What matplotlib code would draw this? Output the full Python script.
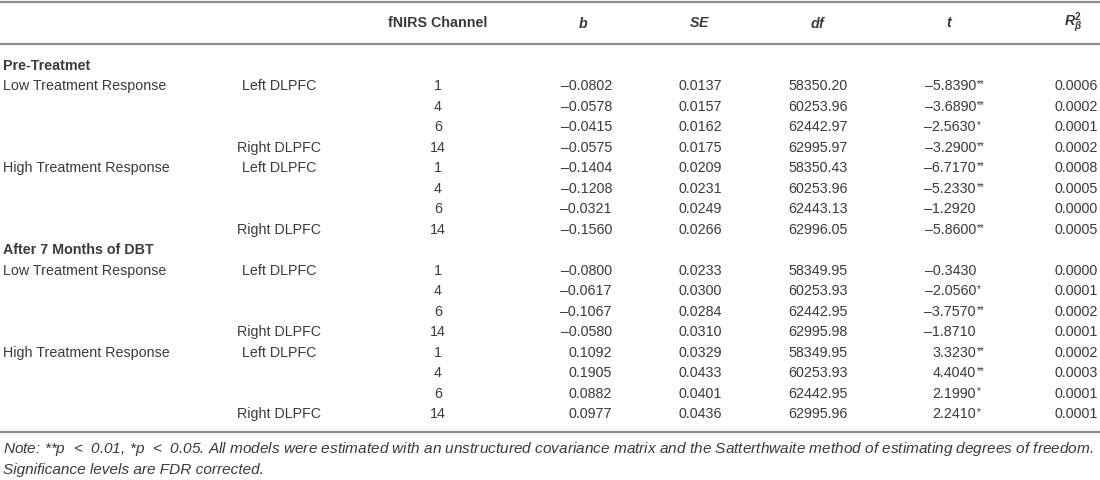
import matplotlib
matplotlib.use("Agg")
import matplotlib.pyplot as plt

plt.rcParams['font.family'] = ['Liberation Sans', 'DejaVu Sans']
plt.rcParams['mathtext.fontset'] = 'custom'
plt.rcParams['mathtext.rm'] = 'Liberation Sans'
plt.rcParams['mathtext.it'] = 'Liberation Sans:italic'
plt.rcParams['mathtext.bf'] = 'Liberation Sans:bold'
plt.rcParams['mathtext.bfit'] = 'Liberation Sans:italic:bold'

# table content
sections = ["Pre-Treatmet", "After 7 Months of DBT"]
groups = ["Low Treatment Response", "", "", "", "High Treatment Response", "", "", ""]
regions = ["Left DLPFC", "", "", "Right DLPFC", "Left DLPFC", "", "", "Right DLPFC"]
channels = [1, 4, 6, 14, 1, 4, 6, 14]

b_pre = ["–0.0802", "–0.0578", "–0.0415", "–0.0575", "–0.1404", "–0.1208", "–0.0321", "–0.1560"]
se_pre = ["0.0137", "0.0157", "0.0162", "0.0175", "0.0209", "0.0231", "0.0249", "0.0266"]
df_pre = ["58350.20", "60253.96", "62442.97", "62995.97", "58350.43", "60253.96", "62443.13", "62996.05"]
t_pre = ["–5.8390", "–3.6890", "–2.5630", "–3.2900", "–6.7170", "–5.2330", "–1.2920", "–5.8600"]
sig_pre = ["**", "**", "*", "**", "**", "**", "", "**"]
r2_pre = ["0.0006", "0.0002", "0.0001", "0.0002", "0.0008", "0.0005", "0.0000", "0.0005"]

b_post = ["–0.0800", "–0.0617", "–0.1067", "–0.0580", "0.1092", "0.1905", "0.0882", "0.0977"]
se_post = ["0.0233", "0.0300", "0.0284", "0.0310", "0.0329", "0.0433", "0.0401", "0.0436"]
df_post = ["58349.95", "60253.93", "62442.95", "62995.98", "58349.95", "60253.93", "62442.95", "62995.96"]
t_post = ["–0.3430", "–2.0560", "–3.7570", "–1.8710", "3.3230", "4.4040", "2.1990", "2.2410"]
sig_post = ["", "*", "**", "", "**", "**", "*", "*"]
r2_post = ["0.0000", "0.0001", "0.0002", "0.0001", "0.0002", "0.0003", "0.0001", "0.0001"]

headers = ["fNIRS Channel", r"$\mathbfit{b}$", r"$\mathbfit{SE}$", r"$\mathbfit{df}$",
           r"$\mathbfit{t}$", r"$\mathbfit{R}^{\mathbf{2}}_{\mathbfit{\beta}}$"]
note1 = (r"Note: **$p$  <  0.01, *$p$  <  0.05. All models were estimated with an unstructured "
         r"covariance matrix and the Satterthwaite method of estimating degrees of freedom.")
note2 = "Significance levels are FDR corrected."

W, H = 1100, 481
fig = plt.figure(figsize=(W / 100, H / 100), dpi=100)
ax = fig.add_axes([0, 0, 1, 1])
ax.set_xlim(0, W)
ax.set_ylim(H, 0)
ax.axis("off")

txt = "#3a3a3a"
fs = 10.3
line_c = "#8c8c8c"

# column layout (pixels)
x_group, x_region, x_chan = 3, 279, 438
x_b, x_se, x_df, x_t, x_r2 = 612, 700, 818, 976, 1076
head_x = [438, 583, 700, 818, 950, 1073]

# rules
for y in [2.5, 44.5, 433]:
    ax.plot([0, W], [y, y], color=line_c, lw=1.6, solid_capstyle="butt")

for hx, h in zip(head_x, headers):
    ax.text(hx, 23, h, ha="center", va="center", fontsize=fs, fontweight="bold", color=txt)

y0, step = 66, 20.47
blocks = [(b_pre, se_pre, df_pre, t_pre, sig_pre, r2_pre),
          (b_post, se_post, df_post, t_post, sig_post, r2_post)]
row = 0
for sec, (bs, ses, dfs, ts, sigs, r2s) in zip(sections, blocks):
    y = y0 + row * step
    ax.text(x_group, y, sec, ha="left", va="center", fontsize=fs, fontweight="bold", color=txt)
    row += 1
    for i in range(len(channels)):
        y = y0 + row * step
        if groups[i]:
            ax.text(x_group, y, groups[i], ha="left", va="center", fontsize=fs, color=txt)
        if regions[i]:
            ax.text(x_region, y, regions[i], ha="center", va="center", fontsize=fs, color=txt)
        ax.text(x_chan, y, str(channels[i]), ha="center", va="center", fontsize=fs, color=txt)
        ax.text(x_b, y, bs[i], ha="right", va="center", fontsize=fs, color=txt)
        ax.text(x_se, y, ses[i], ha="center", va="center", fontsize=fs, color=txt)
        ax.text(x_df, y, dfs[i], ha="center", va="center", fontsize=fs, color=txt)
        ax.text(x_t, y, ts[i], ha="right", va="center", fontsize=fs, color=txt)
        if sigs[i]:
            ax.text(x_t + 0.5, y - 2, sigs[i], ha="left", va="center", fontsize=fs * 0.7, color=txt)
        ax.text(x_r2, y, r2s[i], ha="center", va="center", fontsize=fs, color=txt)
        row += 1

ax.text(x_group, 449, note1, ha="left", va="center", fontsize=11.1, style="italic", color=txt)
ax.text(x_group, 470, note2, ha="left", va="center", fontsize=11.1, style="italic", color=txt)

fig.savefig("out.png", dpi=100)
